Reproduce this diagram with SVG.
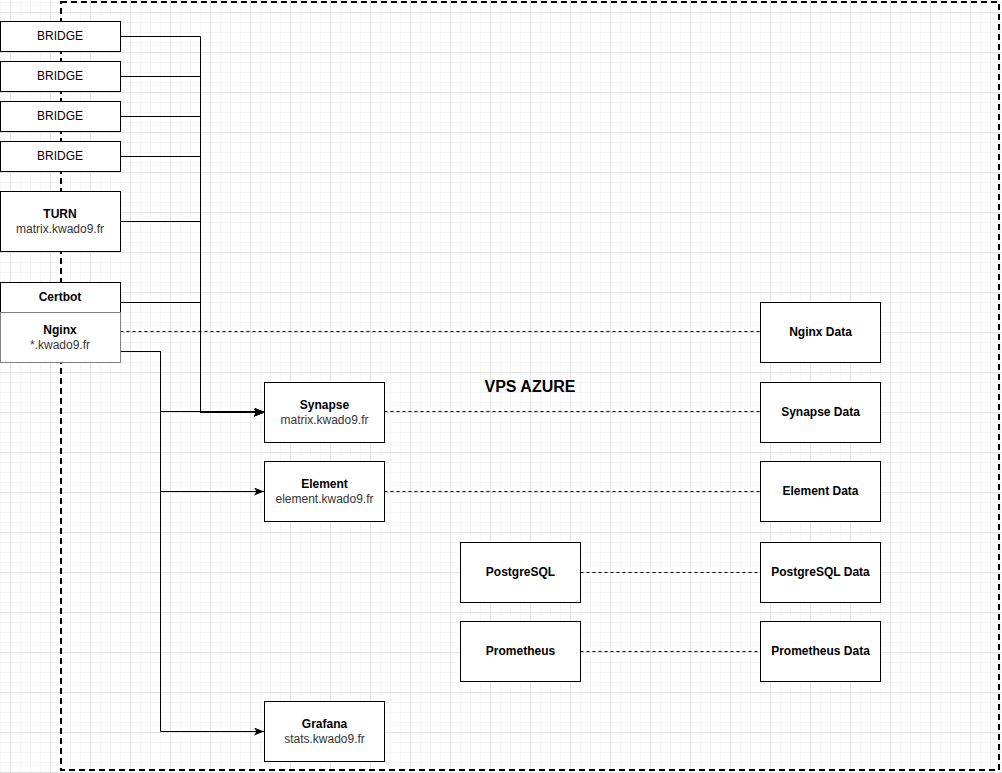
<svg xmlns="http://www.w3.org/2000/svg" width="1002" height="773" viewBox="0 0 1002 773">
<defs>
<pattern id="grid" x="0" y="2" width="40" height="40" patternUnits="userSpaceOnUse">
<rect x="0" y="0" width="40" height="1" fill="#f5f5f5"/>
<rect x="0" y="20" width="40" height="1" fill="#f5f5f5"/>
<rect x="0" y="30" width="40" height="1" fill="#f5f5f5"/>
<rect x="0" y="0" width="1" height="40" fill="#f5f5f5"/>
<rect x="20" y="0" width="1" height="40" fill="#f5f5f5"/>
<rect x="30" y="0" width="1" height="40" fill="#f5f5f5"/>
<rect x="0" y="10" width="40" height="1" fill="#e3e3e3"/>
<rect x="10" y="0" width="1" height="40" fill="#e3e3e3"/>
</pattern>
<marker id="arr" markerUnits="userSpaceOnUse" markerWidth="12" markerHeight="10" refX="10" refY="4" orient="auto" viewBox="0 0 12 10">
<path d="M0,0 L10,4 L0,8 L2.5,4 Z" fill="#000"/>
</marker>
<style>
.box{fill:#fff;stroke:#000;stroke-width:1}
.grey{stroke:#808080}
.t{font-family:"Liberation Sans",Arial,sans-serif;font-size:12px;fill:#000;text-anchor:middle}
.b{font-weight:bold}
.s{fill:#333}
.e{fill:none;stroke:#000;stroke-width:1}
.d{fill:none;stroke:#000;stroke-width:1;stroke-dasharray:3 3}
.frame{fill:none;stroke:#000;stroke-width:2;stroke-dasharray:6 4}
</style>
</defs>
<rect x="0" y="0" width="1002" height="773" fill="#fff"/>
<rect x="0" y="0" width="1002" height="773" fill="url(#grid)"/>
<rect id="vps" class="frame" x="61" y="2" width="938" height="768"/>
<text class="t b" x="530" y="392" style="font-size:16px">VPS AZURE</text>

<g id="connectors">
<path class="e" d="M120.5,36.5 H200.5 V412.5 H264" marker-end="url(#arr)"/>
<path class="e" d="M120.5,76.5 H200.5 V412.5 H264" marker-end="url(#arr)"/>
<path class="e" d="M120.5,116.5 H200.5 V412.5 H264" marker-end="url(#arr)"/>
<path class="e" d="M120.5,156.5 H200.5 V412.5 H264" marker-end="url(#arr)"/>
<path class="e" d="M120.5,221.5 H200.5 V412.5 H264" marker-end="url(#arr)"/>
<path class="e" d="M120.5,302.5 H200.5 V412.5 H264" marker-end="url(#arr)"/>
<path class="e" d="M120.5,351.5 H160.5 V411.5 H264" marker-end="url(#arr)"/>
<path class="e" d="M120.5,351.5 H160.5 V491.5 H264" marker-end="url(#arr)"/>
<path class="e" d="M120.5,351.5 H160.5 V731.5 H264" marker-end="url(#arr)"/>
<path class="d" d="M120.5,331.5 H760.5"/>
<path class="d" d="M384.5,411.5 H760.5"/>
<path class="d" d="M384.5,491.5 H760.5"/>
<path class="d" d="M580.5,572.5 H760.5"/>
<path class="d" d="M580.5,651.5 H760.5"/>
</g>

<g id="bridge1"><rect class="box" x="0.5" y="21.5" width="120" height="30"/><text class="t" x="60" y="40">BRIDGE</text></g>
<g id="bridge2"><rect class="box" x="0.5" y="61.5" width="120" height="30"/><text class="t" x="60" y="80">BRIDGE</text></g>
<g id="bridge3"><rect class="box" x="0.5" y="101.5" width="120" height="30"/><text class="t" x="60" y="120">BRIDGE</text></g>
<g id="bridge4"><rect class="box" x="0.5" y="141.5" width="120" height="30"/><text class="t" x="60" y="160">BRIDGE</text></g>
<g id="turn"><rect class="box" x="0.5" y="191.5" width="120" height="60"/><text class="t b" x="60" y="218">TURN</text><text class="t s" x="60" y="232.5">matrix.kwado9.fr</text></g>
<g id="certbot"><rect class="box" x="0.5" y="282.5" width="120" height="30"/><text class="t b" x="60" y="301">Certbot</text></g>
<g id="nginx"><rect class="box grey" x="0.5" y="312.5" width="120" height="50"/><text class="t b" x="60" y="334">Nginx</text><text class="t s" x="60" y="348.5">*.kwado9.fr</text></g>
<g id="synapse"><rect class="box" x="264.5" y="382.5" width="120" height="60"/><text class="t b" x="324.5" y="409">Synapse</text><text class="t s" x="324.5" y="423.5">matrix.kwado9.fr</text></g>
<g id="element"><rect class="box" x="264.5" y="461.5" width="120" height="60"/><text class="t b" x="324.5" y="488">Element</text><text class="t s" x="324.5" y="502.5">element.kwado9.fr</text></g>
<g id="grafana"><rect class="box" x="264.5" y="701.5" width="120" height="60"/><text class="t b" x="324.5" y="728">Grafana</text><text class="t s" x="324.5" y="742.5">stats.kwado9.fr</text></g>
<g id="postgresql"><rect class="box" x="460.5" y="542.5" width="120" height="60"/><text class="t b" x="520.5" y="576">PostgreSQL</text></g>
<g id="prometheus"><rect class="box" x="460.5" y="621.5" width="120" height="60"/><text class="t b" x="520.5" y="655">Prometheus</text></g>
<g id="nginx-data"><rect class="box" x="760.5" y="302.5" width="120" height="60"/><text class="t b" x="820.5" y="336">Nginx Data</text></g>
<g id="synapse-data"><rect class="box" x="760.5" y="382.5" width="120" height="60"/><text class="t b" x="820.5" y="416">Synapse Data</text></g>
<g id="element-data"><rect class="box" x="760.5" y="461.5" width="120" height="60"/><text class="t b" x="820.5" y="495">Element Data</text></g>
<g id="postgresql-data"><rect class="box" x="760.5" y="542.5" width="120" height="60"/><text class="t b" x="820.5" y="576">PostgreSQL Data</text></g>
<g id="prometheus-data"><rect class="box" x="760.5" y="621.5" width="120" height="60"/><text class="t b" x="820.5" y="655">Prometheus Data</text></g>
</svg>
